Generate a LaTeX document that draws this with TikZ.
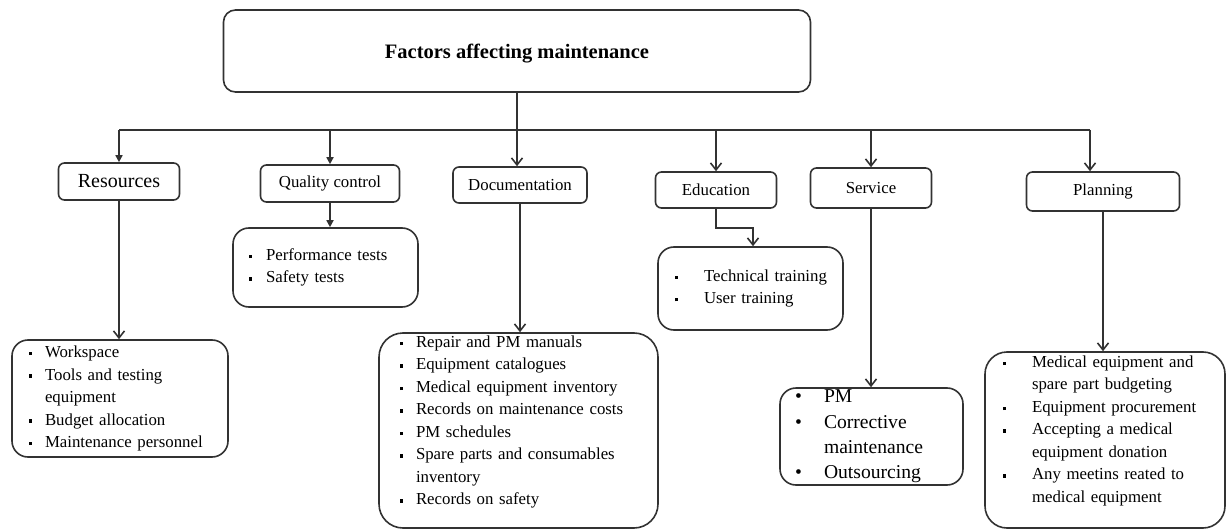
\documentclass[tikz,border=0pt]{standalone}
\usepackage{fontspec}
\setmainfont{Liberation Serif}
\usepackage{tikz}
\usetikzlibrary{positioning,arrows.meta}
\definecolor{linegray}{RGB}{50,50,50}
\newcommand{\sqb}{\raisebox{0.3ex}{\rule{3.4pt}{3.4pt}}}
\newcommand{\itm}[2][16pt]{\mbox{\makebox[#1][l]{\sqb}#2}}
\newcommand{\cnt}[2][16pt]{\mbox{\hspace*{#1}#2}}
\newcommand{\rbul}[2][29pt]{\mbox{\makebox[#1][l]{\textbullet}#2}}
\tikzset{
  head/.style={draw=linegray, line width=1.6pt, rounded corners=12pt, minimum width=587pt, minimum height=82pt, font=\bfseries\fontsize{20.5}{24}\selectfont},
  cat/.style={draw=linegray, line width=1.6pt, rounded corners=6pt, inner sep=0pt, font=\fontsize{16.8}{20}\selectfont},
  lst/.style={draw=linegray, line width=1.6pt, rounded corners=16pt, align=left, inner ysep=0pt, font=\fontsize{16.8}{22.5}\selectfont},
  arr/.style={-{Straight Barb[length=7pt,width=11pt]}, line width=1.6pt, draw=linegray},
  arrf/.style={-{Triangle[length=7pt,width=7pt]}, line width=1.6pt, draw=linegray},
  ln/.style={line width=1.6pt, draw=linegray},
}
\begin{document}
\begin{tikzpicture}[x=1pt,y=-1pt]
  \useasboundingbox (0,0) rectangle (1230,529);
  % top box
  \node[head, text depth=0pt] (fam) at (517,51) {Factors affecting maintenance};
  % categories
  \node[cat, font=\fontsize{20}{24}\selectfont, minimum width=121pt, minimum height=37pt] (res) at (119,181.5) {Resources};
  \node[cat, minimum width=139pt, minimum height=37pt] (qc) at (330,183.5) {Quality control};
  \node[cat, minimum width=134pt, minimum height=36pt] (doc) at (520,185) {Documentation};
  \node[cat, minimum width=121pt, minimum height=36pt] (edu) at (716,190) {Education};
  \node[cat, minimum width=121pt, minimum height=40pt] (srv) at (871,188) {Service};
  \node[cat, minimum width=153pt, minimum height=39pt] (pln) at (1103,191.5) {Planning};
  % lists
  \node[lst, text width=182pt, inner xsep=17pt, minimum height=117pt] (resL) at (120,398.5)
    {\itm{Workspace}\\ \itm{Tools and testing}\\ \cnt{equipment}\\ \itm{Budget allocation}\\ \itm{Maintenance personnel}};
  \node[lst, text width=153pt, inner xsep=16pt, minimum height=79pt] (qcL) at (325.5,267.5)
    {\itm[17pt]{Performance tests}\\ \itm[17pt]{Safety tests}};
  \node[lst, text width=237pt, inner xsep=21pt, minimum height=195pt, rounded corners=24pt, text depth=178pt] (docL) at (518.5,430.5)
    {\itm{Repair and PM manuals}\\ \itm{Equipment catalogues}\\ \itm{Medical equipment inventory}\\ \itm{Records on maintenance costs}\\ \itm{PM schedules}\\ \itm{Spare parts and consumables}\\ \cnt{inventory}\\ \itm{Records on safety}};
  \node[lst, text width=151pt, inner xsep=17pt, minimum height=83pt] (eduL) at (750.5,288.5)
    {\itm[29pt]{Technical training}\\ \itm[29pt]{User training}};
  \node[lst, text width=153pt, inner xsep=15pt, minimum height=97pt, font=\fontsize{19.6}{25.3}\selectfont] (srvL) at (871.5,436.5)
    {\rbul{PM}\\ \rbul{Corrective}\\ \cnt[29pt]{maintenance}\\ \rbul{Outsourcing}};
  \node[lst, text width=204pt, inner xsep=18pt, minimum height=176pt, rounded corners=22pt, text depth=157pt] (plnL) at (1105,440)
    {\itm[29pt]{Medical equipment and}\\ \cnt[29pt]{spare part budgeting}\\ \itm[29pt]{Equipment procurement}\\ \itm[29pt]{Accepting a medical}\\ \cnt[29pt]{equipment donation}\\ \itm[29pt]{Any meetins reated to}\\ \cnt[29pt]{medical equipment}};
  % bus
  \coordinate (busL) at (119,130);
  \coordinate (busR) at (1090,130);
  \draw[ln] (busL) -- (busR);
  \draw[arr] (fam.south) -- (fam.south |- doc.north);
  \draw[arrf] (busL) -- (busL |- res.north);
  \draw[arrf] (qc.north |- busL) -- (qc.north);
  \draw[arr] (edu.north |- busL) -- (edu.north);
  \draw[arr] (srv.north |- busL) -- (srv.north);
  \draw[arr] (busR) -- (busR |- pln.north);
  % categories to lists
  \coordinate (eduK) at (753,228);
  \draw[arr] (res.south) -- (res.south |- resL.north);
  \draw[arrf] (qc.south) -- (qc.south |- qcL.north);
  \draw[arr] (doc.south) -- (doc.south |- docL.north);
  \draw[arr] (edu.south) |- (eduK) -- (eduK |- eduL.north);
  \draw[arr] (srv.south) -- (srv.south |- srvL.north);
  \draw[arr] (pln.south) -- (pln.south |- plnL.north);
\end{tikzpicture}
\end{document}
